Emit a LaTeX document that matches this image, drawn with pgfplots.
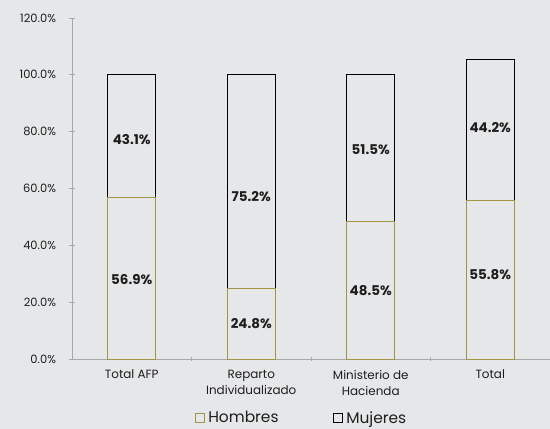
\documentclass[border=0pt]{standalone}
\usepackage{fontspec}
\setmainfont{Poppins}
\usepackage{pgfplots}
\pgfplotsset{compat=1.18}
\definecolor{bg}{HTML}{E6E7E9}
\definecolor{hombres}{HTML}{A39445}
\definecolor{axisgray}{HTML}{A8A8A8}
\definecolor{txt}{HTML}{1E1E1E}

\pgfplotsset{common/.style={
  at={(72bp,70bp)}, anchor=south west,
  scale only axis, width=478bp, height=341bp,
  xmin=-0.5, xmax=3.5, ymin=0, ymax=120, clip=false}}

\begin{document}
\begin{tikzpicture}
\fill[bg] (0,0) rectangle (550bp,429bp);
\begin{axis}[
  common,
  ybar stacked, bar width=48bp,
  xtick={0,1,2,3},
  xticklabels={Total AFP, Reparto\\Individualizado, Ministerio de\\Hacienda, Total},
  xticklabel style={align=center, font=\fontsize{12}{16.5}\selectfont, text=txt, yshift=-5bp},
  major x tick style={draw=none},
  minor xtick={0.5,1.5,2.5},
  minor tick length=4bp,
  ytick={0,20,...,120},
  yticklabel={\pgfmathprintnumber[fixed,fixed zerofill,precision=1]{\tick}\%},
  yticklabel style={font=\fontsize{11.5}{12}\selectfont, text=txt, xshift=-10bp},
  /pgf/number format/assume math mode=true,
  tick align=outside, major tick length=5bp,
  tick style={axisgray, line width=0.8pt},
  axis x line=bottom, axis y line=left,
  axis line style={axisgray, line width=1pt, -},
  legend columns=2,
  legend style={at={(0.48,-0.173)}, anchor=center, draw=none, fill=none,
    font=\fontsize{15.5}{16}\selectfont, text=txt,
    /tikz/every odd column/.append style={column sep=2bp},
    /tikz/every even column/.append style={column sep=52bp}},
  legend image code/.code={\draw[#1, line width=0.7pt] (0bp,-4.5bp) rectangle (9bp,4.5bp);},
]
\addplot[draw=hombres, fill=none, line width=1bp] coordinates {
  (0,56.9) (1,24.8) (2,48.5) (3,55.8)
};
\addlegendentry{Hombres}
\addplot[draw=black, fill=none, line width=1bp] coordinates {
  (0,43.1) (1,75.2) (2,51.5) (3,49.5)
};
\addlegendentry{Mujeres}
\end{axis}
% segment labels, centred in each segment
\begin{axis}[
  common, hide axis,
  point meta=explicit symbolic,
  nodes near coords,
  every node near coord/.style={anchor=center, font=\bfseries\fontsize{13.5}{14}\selectfont, text=txt},
]
\addplot[only marks, mark=none] coordinates {
  (0,27.8) [56.9\%]
  (1,12.4) [24.8\%]
  (2,24.25) [48.5\%]
  (3,29.6) [55.8\%]
  (0,77.4) [43.1\%]
  (1,57.2) [75.2\%]
  (2,73.5) [51.5\%]
  (3,81.5) [44.2\%]
};
\end{axis}
\pgfresetboundingbox
\useasboundingbox (0,0) rectangle (550bp,429bp);
\end{tikzpicture}
\end{document}
